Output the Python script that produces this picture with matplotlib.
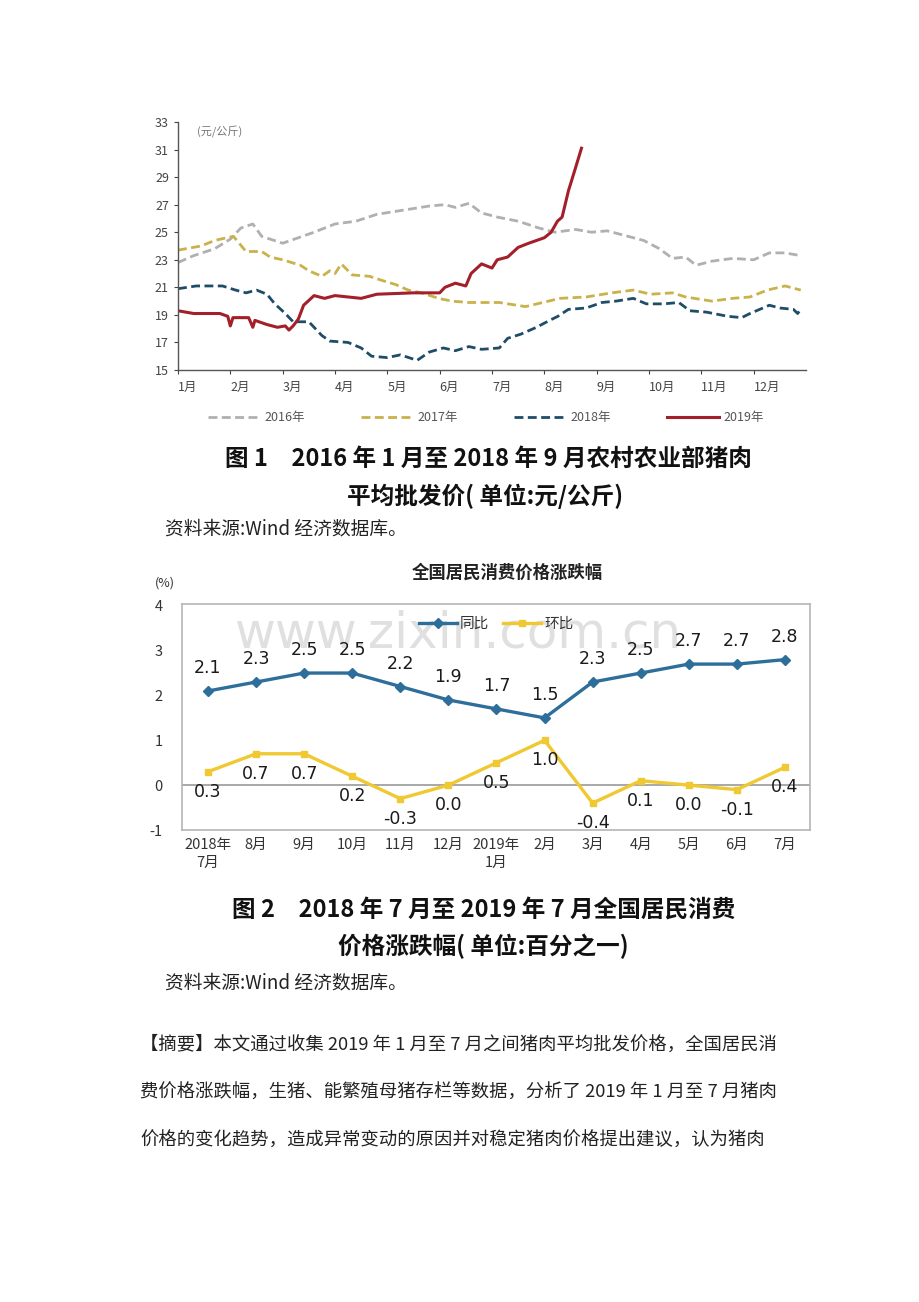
import matplotlib
matplotlib.use("Agg")
import matplotlib.pyplot as plt

CJK = ['Noto Sans CJK SC', 'DejaVu Sans']
plt.rcParams['font.family'] = CJK

# ---------------- Chart 1 data (month position, price) ----------------
month_labels = ['1月', '2月', '3月', '4月', '5月', '6月', '7月', '8月', '9月', '10月', '11月', '12月']
y1_ticks = [15, 17, 19, 21, 23, 25, 27, 29, 31, 33]

x2016 = [0, 0.3, 0.7, 1.0, 1.2, 1.43, 1.6, 2.0, 2.3, 2.6, 3.0, 3.4, 3.8, 4.3, 4.8, 5.1, 5.3, 5.56, 5.8, 6.1, 6.5, 6.9, 7.2, 7.6, 7.9, 8.2, 8.6, 8.9, 9.2, 9.45, 9.7, 9.9, 10.2, 10.6, 11.0, 11.3, 11.6, 11.9]
y2016 = [22.8, 23.3, 23.8, 24.5, 25.3, 25.6, 24.7, 24.2, 24.6, 25.0, 25.6, 25.8, 26.3, 26.6, 26.9, 27.0, 26.8, 27.1, 26.4, 26.1, 25.8, 25.3, 25.0, 25.2, 25.0, 25.1, 24.7, 24.4, 23.8, 23.1, 23.2, 22.6, 22.9, 23.1, 23.0, 23.5, 23.5, 23.3]

x2017 = [0, 0.44, 0.7, 0.93, 1.06, 1.3, 1.6, 1.76, 2.0, 2.34, 2.5, 2.75, 2.9, 3.0, 3.12, 3.33, 3.66, 3.9, 4.16, 4.4, 4.65, 4.98, 5.23, 5.56, 6.14, 6.64, 6.97, 7.3, 7.8, 8.29, 8.7, 9.03, 9.45, 9.7, 10.2, 10.6, 10.93, 11.26, 11.6, 11.9]
y2017 = [23.7, 24.0, 24.4, 24.6, 24.7, 23.6, 23.6, 23.2, 23.0, 22.6, 22.2, 21.8, 22.2, 22.0, 22.7, 21.9, 21.8, 21.5, 21.2, 20.8, 20.6, 20.2, 20.0, 19.9, 19.9, 19.6, 19.9, 20.2, 20.3, 20.6, 20.8, 20.5, 20.6, 20.3, 20.0, 20.2, 20.3, 20.8, 21.1, 20.8]

x2018 = [0, 0.35, 0.85, 1.1, 1.3, 1.5, 1.7, 1.85, 2.05, 2.2, 2.5, 2.75, 2.9, 3.25, 3.5, 3.7, 4.0, 4.25, 4.57, 4.8, 5.07, 5.3, 5.56, 5.8, 6.14, 6.3, 6.55, 6.85, 7.1, 7.26, 7.46, 7.8, 8.1, 8.37, 8.7, 8.95, 9.28, 9.57, 9.78, 10.1, 10.5, 10.77, 10.93, 11.3, 11.5, 11.76, 11.84, 11.9]
y2018 = [20.9, 21.1, 21.1, 20.8, 20.6, 20.8, 20.5, 19.8, 19.1, 18.5, 18.5, 17.5, 17.1, 17.0, 16.6, 16.0, 15.9, 16.1, 15.7, 16.3, 16.6, 16.4, 16.7, 16.5, 16.6, 17.3, 17.6, 18.1, 18.6, 18.9, 19.4, 19.5, 19.9, 20.0, 20.2, 19.8, 19.8, 19.9, 19.3, 19.2, 18.9, 18.8, 19.1, 19.7, 19.5, 19.4, 19.1, 19.4]

x2019 = [0, 0.3, 0.8, 0.95, 1.0, 1.05, 1.35, 1.43, 1.47, 1.7, 1.9, 2.05, 2.12, 2.2, 2.3, 2.4, 2.6, 2.8, 3.0, 3.5, 3.8, 4.5, 5.0, 5.1, 5.3, 5.5, 5.6, 5.8, 6.0, 6.1, 6.3, 6.5, 6.7, 7.0, 7.13, 7.25, 7.34, 7.46, 7.59, 7.71]
y2019 = [19.3, 19.1, 19.1, 18.9, 18.2, 18.8, 18.8, 18.1, 18.6, 18.3, 18.1, 18.2, 17.9, 18.2, 18.7, 19.7, 20.4, 20.2, 20.4, 20.2, 20.5, 20.6, 20.6, 21.0, 21.3, 21.1, 22.0, 22.7, 22.4, 23.0, 23.2, 23.9, 24.2, 24.6, 25.0, 25.8, 26.1, 28.0, 29.6, 31.1]

series1_names = ['2016年', '2017年', '2018年', '2019年']

# ---------------- Chart 2 data ----------------
cat_labels = ['2018年\n7月', '8月', '9月', '10月', '11月', '12月', '2019年\n1月', '2月', '3月', '4月', '5月', '6月', '7月']
yoy = [2.1, 2.3, 2.5, 2.5, 2.2, 1.9, 1.7, 1.5, 2.3, 2.5, 2.7, 2.7, 2.8]
mom = [0.3, 0.7, 0.7, 0.2, -0.3, 0.0, 0.5, 1.0, -0.4, 0.1, 0.0, -0.1, 0.4]
y2_ticks = [-1, 0, 1, 2, 3, 4]

W, H = 920, 1302
fig = plt.figure(figsize=(W / 100, H / 100), dpi=100)
fig.patch.set_facecolor('white')


def fx(px):
    return px / W


def fy(py):
    return 1 - py / H


# ---------------- Chart 1 ----------------
ax1 = fig.add_axes([fx(178), fy(370), fx(806 - 178), (370 - 122) / H])
c16, c17, c18, c19 = '#B0B0B0', '#C9B24A', '#1F4D68', '#A3202A'
ax1.plot(x2016, y2016, color=c16, lw=2.0, ls=(0, (3.2, 1.6)), label=series1_names[0])
ax1.plot(x2017, y2017, color=c17, lw=2.0, ls=(0, (3.2, 1.6)), label=series1_names[1])
ax1.plot(x2018, y2018, color=c18, lw=2.0, ls=(0, (3.2, 1.6)), label=series1_names[2])
ax1.plot(x2019, y2019, color=c19, lw=2.2, ls='-', label=series1_names[3])
ax1.set_xlim(0, 12)
ax1.set_ylim(15, 33)
ax1.set_yticks(y1_ticks)
ax1.set_yticklabels([str(v) for v in y1_ticks])
ax1.set_xticks(range(12))
ax1.set_xticklabels(month_labels, ha='left')
for s in ['top', 'right']:
    ax1.spines[s].set_visible(False)
for s in ['left', 'bottom']:
    ax1.spines[s].set_color('#555555')
    ax1.spines[s].set_linewidth(1.0)
ax1.tick_params(axis='both', labelsize=9, colors='#444444', length=3, width=0.8)
ax1.tick_params(axis='x', pad=5)
ax1.text(0.03, 0.985, '(元/公斤)', transform=ax1.transAxes, fontsize=8, color='#777777', va='top', ha='left')
ax1.legend(loc='upper center', bbox_to_anchor=(0.49, -0.12), ncol=4, frameon=False,
           fontsize=9, handlelength=4.2, columnspacing=4.5, handletextpad=0.3, labelcolor='#555555')

# ---------------- Captions 1 ----------------
cap_kw = dict(family=CJK, color='#111111', ha='center', va='center')
fig.text(fx(488), fy(459), '图 1　2016 年 1 月至 2018 年 9 月农村农业部猪肉', fontsize=17, weight='bold', **cap_kw)
fig.text(fx(485), fy(496), '平均批发价( 单位:元/公斤)', fontsize=17, weight='bold', **cap_kw)
fig.text(fx(165), fy(529), '资料来源:Wind 经济数据库。', fontsize=13.5, family=CJK, color='#222222', ha='left', va='center')

# ---------------- Chart 2 ----------------
ax2 = fig.add_axes([fx(182), fy(830), fx(810 - 182), (830 - 604) / H])
xs = list(range(len(cat_labels)))
ax2.set_xlim(-0.54, 12.52)
ax2.set_ylim(-1, 4.04)
ax2.axhline(0, color='#9A9A9A', lw=1.2, zorder=1)
ax2.text(0.44, 0.87, 'www.zixin.com.cn', transform=ax2.transAxes, fontsize=36, color='#E0E0E0',
         ha='center', va='center', family='DejaVu Sans', zorder=0)
cb, cy = '#2D6E9B', '#F0C832'
ax2.plot(xs, yoy, color=cb, lw=2.4, marker='D', ms=5, label='同比', zorder=3)
ax2.plot(xs, mom, color=cy, lw=2.4, marker='s', ms=4.5, label='环比', zorder=3)
for x, v in zip(xs, yoy):
    ax2.annotate(f'{v:.1f}', (x, v), xytext=(0, 10), textcoords='offset points', ha='center', va='bottom',
                 fontsize=12.5, color='#1A1A1A', family='DejaVu Sans')
for x, v in zip(xs, mom):
    ax2.annotate(f'{v:.1f}', (x, v), xytext=(0, -8), textcoords='offset points', ha='center', va='top',
                 fontsize=12.5, color='#1A1A1A', family='DejaVu Sans')
ax2.set_yticks(y2_ticks)
ax2.set_yticklabels([str(v) for v in y2_ticks])
ax2.set_xticks(xs)
ax2.set_xticklabels(cat_labels, linespacing=1.3)
for s in ax2.spines.values():
    s.set_color('#B5B5B5')
    s.set_linewidth(1.2)
ax2.tick_params(axis='both', length=0, labelsize=10.5, colors='#333333')
ax2.tick_params(axis='y', pad=14)
ax2.tick_params(axis='x', pad=6)
ax2.legend(loc='upper center', bbox_to_anchor=(0.5, 1.0), ncol=2, frameon=False, fontsize=10.5,
           handlelength=2.6, columnspacing=1.0, handletextpad=0.2, labelcolor='#333333')
fig.text(fx(507), fy(573), '全国居民消费价格涨跌幅', fontsize=12.5, weight='bold', family=CJK, color='#222222',
         ha='center', va='center')
fig.text(fx(165), fy(583), '(%)', fontsize=9, family=CJK, color='#333333', ha='center', va='center')

# ---------------- Captions 2 ----------------
fig.text(fx(484), fy(910), '图 2　2018 年 7 月至 2019 年 7 月全国居民消费', fontsize=17, weight='bold', **cap_kw)
fig.text(fx(483), fy(946), '价格涨跌幅( 单位:百分之一)', fontsize=17, weight='bold', **cap_kw)
fig.text(fx(165), fy(983), '资料来源:Wind 经济数据库。', fontsize=13.5, family=CJK, color='#222222', ha='left', va='center')

# ---------------- Abstract ----------------
abstract_lines = [
    '【摘要】本文通过收集 2019 年 1 月至 7 月之间猪肉平均批发价格，全国居民消',
    '费价格涨跌幅，生猪、能繁殖母猪存栏等数据，分析了 2019 年 1 月至 7 月猪肉',
    '价格的变化趋势，造成异常变动的原因并对稳定猪肉价格提出建议，认为猪肉',
]
for py, line in zip([1045, 1093, 1141], abstract_lines):
    fig.text(fx(140), fy(py), line, fontsize=13.2, family=CJK, color='#222222', ha='left', va='center')

fig.savefig('out.png', dpi=100, facecolor='white')
